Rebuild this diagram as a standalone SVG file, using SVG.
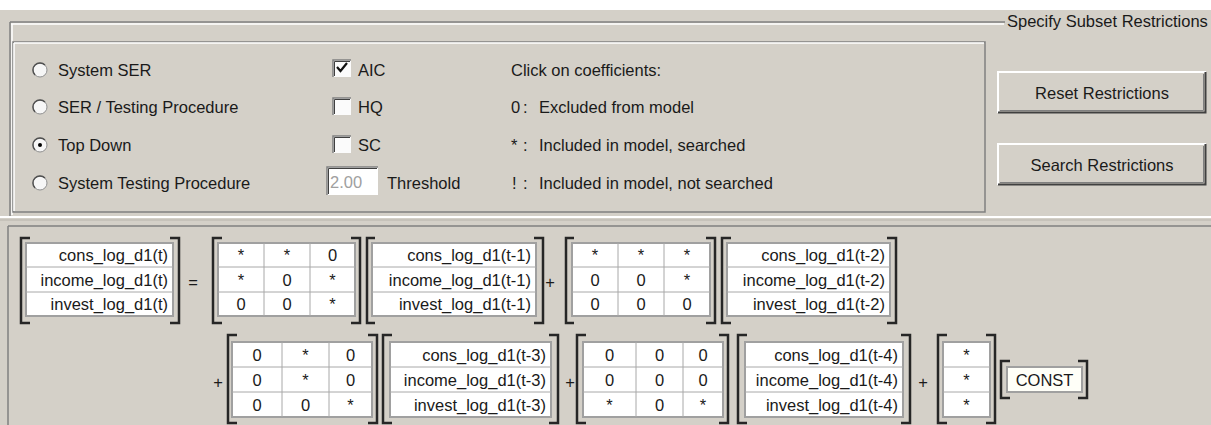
<svg xmlns="http://www.w3.org/2000/svg" width="1211" height="425" viewBox="0 0 1211 425">
<style>
.t{font-family:"Liberation Sans",Arial,sans-serif;font-size:16.5px;fill:#1a1a1a}
.c{text-anchor:middle}
.r{text-anchor:end}
.cells{fill:#fff;stroke:#a0a0a0;stroke-width:2}
.grid{stroke:#a8a8a8;stroke-width:1;fill:none}
.br{fill:none;stroke:#262626;stroke-width:2.5}
.dk{stroke:#808080;stroke-width:1.5;fill:none}
.hl{stroke:#ffffff;stroke-width:1.5;fill:none}
.rad{fill:#f6f6f6;stroke:#909090;stroke-width:1}
.radd{fill:none;stroke:#505050;stroke-width:1.4}
.chk{fill:#fbfbfb}
</style>
<rect x="0" y="0" width="1211" height="425" fill="#d4d0c8"/>
<rect x="0" y="0" width="1211" height="10" fill="#ffffff"/>

<g id="groupbox">
  <path class="dk" d="M10,22 H1005 M10,22 V217"/>
  <path class="hl" d="M11,24 H1004 M12,24 V215"/>
  <text class="t" x="1007" y="27">Specify Subset Restrictions</text>
  <path class="dk" d="M13,42 H985 V212 H13 Z"/>
  <path class="hl" d="M14,43 H984 M14,43 V211"/>
  <path d="M0,217 H1211" stroke="#ffffff" stroke-width="2"/>
  <path d="M0,220 H1211" stroke="#b8b4ac" stroke-width="1"/>
  <path d="M8,226 H1211 M8,226 V425" stroke="#808080" stroke-width="1.5" fill="none"/>
</g>

<g id="radio-system-ser">
  <circle class="rad" cx="40" cy="70" r="7"/>
  <path class="radd" d="M35,75 A7,7 0 0 1 45,65"/>
  <text class="t" x="58" y="76">System SER</text>
</g>
<g id="radio-ser-testing">
  <circle class="rad" cx="40" cy="107" r="7"/>
  <path class="radd" d="M35,112 A7,7 0 0 1 45,102"/>
  <text class="t" x="58" y="113">SER / Testing Procedure</text>
</g>
<g id="radio-top-down">
  <circle class="rad" cx="40" cy="145" r="7"/>
  <path class="radd" d="M35,150 A7,7 0 0 1 45,140"/>
  <circle cx="40" cy="145" r="2" fill="#000"/>
  <text class="t" x="58" y="151">Top Down</text>
</g>
<g id="radio-system-testing">
  <circle class="rad" cx="40" cy="183" r="7"/>
  <path class="radd" d="M35,188 A7,7 0 0 1 45,178"/>
  <text class="t" x="58" y="189">System Testing Procedure</text>
</g>

<g id="check-aic">
  <rect class="chk" x="333" y="60" width="18" height="17"/>
  <path d="M333,77 V60 H351" stroke="#808080" stroke-width="1.5" fill="none"/>
  <path d="M334.5,76 V61.5 H350" stroke="#404040" stroke-width="1" fill="none"/>
  <path d="M337,67 L340.5,71 L347,63" stroke="#111" stroke-width="2.2" fill="none"/>
  <text class="t" x="358" y="76">AIC</text>
</g>
<g id="check-hq">
  <rect class="chk" x="333" y="98" width="18" height="17"/>
  <path d="M333,115 V98 H351" stroke="#808080" stroke-width="1.5" fill="none"/>
  <path d="M334.5,114 V99.5 H350" stroke="#404040" stroke-width="1" fill="none"/>
  <text class="t" x="358" y="113">HQ</text>
</g>
<g id="check-sc">
  <rect class="chk" x="333" y="136" width="18" height="17"/>
  <path d="M333,153 V136 H351" stroke="#808080" stroke-width="1.5" fill="none"/>
  <path d="M334.5,152 V137.5 H350" stroke="#404040" stroke-width="1" fill="none"/>
  <text class="t" x="358" y="151">SC</text>
</g>
<g id="threshold">
  <rect x="327" y="167" width="51" height="28" fill="#ffffff"/>
  <path d="M327,195 V167 H378" stroke="#808080" stroke-width="1.5" fill="none"/>
  <path d="M328.5,194 V168.5 H377" stroke="#404040" stroke-width="1" fill="none"/>
  <text class="t" x="330" y="188" style="fill:#a0a0a0">2.00</text>
  <text class="t" x="387" y="189">Threshold</text>
</g>

<g id="legend">
  <text class="t" x="511" y="76">Click on coefficients:</text>
  <text class="t" y="113"><tspan x="511">0</tspan><tspan x="523">:</tspan><tspan x="539">Excluded from model</tspan></text>
  <text class="t" y="151"><tspan x="511">*</tspan><tspan x="523">:</tspan><tspan x="539">Included in model, searched</tspan></text>
  <text class="t" y="189"><tspan x="512">!</tspan><tspan x="523">:</tspan><tspan x="539">Included in model, not searched</tspan></text>
</g>

<g id="btn-reset">
  <rect x="998" y="72" width="208" height="41" fill="#d4d0c8"/>
  <path d="M998,113 V72 H1206" stroke="#ffffff" stroke-width="2" fill="none"/>
  <path d="M998,112.5 H1205.5 V72" stroke="#404040" stroke-width="2" fill="none"/>
  <path d="M1000,110.5 H1203.5 V74" stroke="#808080" stroke-width="1" fill="none"/>
  <text class="t c" x="1102" y="98.5">Reset Restrictions</text>
</g>
<g id="btn-search">
  <rect x="998" y="144" width="208" height="41" fill="#d4d0c8"/>
  <path d="M998,185 V144 H1206" stroke="#ffffff" stroke-width="2" fill="none"/>
  <path d="M998,184.5 H1205.5 V144" stroke="#404040" stroke-width="2" fill="none"/>
  <path d="M1000,182.5 H1203.5 V146" stroke="#808080" stroke-width="1" fill="none"/>
  <text class="t c" x="1102" y="170.5">Search Restrictions</text>
</g>

<!-- Upper row -->
<g id="vec-t">
  <rect class="cells" x="26" y="243" width="147" height="73"/>
  <path class="grid" d="M26,267 H173 M26,292 H173"/>
  <text class="t r" x="168" y="261">cons_log_d1(t)</text>
  <text class="t r" x="168" y="285.5">income_log_d1(t)</text>
  <text class="t r" x="168" y="310">invest_log_d1(t)</text>
  <path class="br" d="M30,238 H21 V323 H30 M170,238 H179 V323 H170"/>
</g>
<g id="eq"><text class="t c" x="193" y="288">=</text></g>
<g id="mat-a1">
  <rect class="cells" x="218" y="243" width="137" height="73"/>
  <path class="grid" d="M218,267 H355 M218,292 H355 M264,243 V316 M310,243 V316"/>
  <text class="t c" x="241" y="261">*</text><text class="t c" x="287" y="261">*</text><text class="t c" x="332.5" y="261">0</text>
  <text class="t c" x="241" y="285.5">*</text><text class="t c" x="287" y="285.5">0</text><text class="t c" x="332.5" y="285.5">*</text>
  <text class="t c" x="241" y="310">0</text><text class="t c" x="287" y="310">0</text><text class="t c" x="332.5" y="310">*</text>
  <path class="br" d="M222,238 H213 V323 H222 M351,238 H360 V323 H351"/>
</g>
<g id="vec-t1">
  <rect class="cells" x="372" y="243" width="164" height="73"/>
  <path class="grid" d="M372,267 H536 M372,292 H536"/>
  <text class="t r" x="531" y="261">cons_log_d1(t-1)</text>
  <text class="t r" x="531" y="285.5">income_log_d1(t-1)</text>
  <text class="t r" x="531" y="310">invest_log_d1(t-1)</text>
  <path class="br" d="M375,238 H367 V323 H375 M534,238 H543 V323 H534"/>
</g>
<g id="plus1"><text class="t c" x="550" y="288">+</text></g>
<g id="mat-a2">
  <rect class="cells" x="572" y="243" width="138" height="73"/>
  <path class="grid" d="M572,267 H710 M572,292 H710 M618,243 V316 M664,243 V316"/>
  <text class="t c" x="595" y="261">*</text><text class="t c" x="641" y="261">*</text><text class="t c" x="687" y="261">*</text>
  <text class="t c" x="595" y="285.5">0</text><text class="t c" x="641" y="285.5">0</text><text class="t c" x="687" y="285.5">*</text>
  <text class="t c" x="595" y="310">0</text><text class="t c" x="641" y="310">0</text><text class="t c" x="687" y="310">0</text>
  <path class="br" d="M574,238 H566 V323 H574 M706,238 H715 V323 H706"/>
</g>
<g id="vec-t2">
  <rect class="cells" x="727" y="243" width="163" height="73"/>
  <path class="grid" d="M727,267 H890 M727,292 H890"/>
  <text class="t r" x="885" y="261">cons_log_d1(t-2)</text>
  <text class="t r" x="885" y="285.5">income_log_d1(t-2)</text>
  <text class="t r" x="885" y="310">invest_log_d1(t-2)</text>
  <path class="br" d="M731,238 H722 V323 H731 M887,238 H896 V323 H887"/>
</g>

<!-- Lower row -->
<g id="plus2"><text class="t c" x="218" y="388">+</text></g>
<g id="mat-a3">
  <rect class="cells" x="232" y="342" width="140" height="75"/>
  <path class="grid" d="M232,367 H372 M232,392 H372 M282,342 V417 M329,342 V417"/>
  <text class="t c" x="257" y="360.5">0</text><text class="t c" x="305.5" y="360.5">*</text><text class="t c" x="350.5" y="360.5">0</text>
  <text class="t c" x="257" y="385.5">0</text><text class="t c" x="305.5" y="385.5">*</text><text class="t c" x="350.5" y="385.5">0</text>
  <text class="t c" x="257" y="410.5">0</text><text class="t c" x="305.5" y="410.5">0</text><text class="t c" x="350.5" y="410.5">*</text>
  <path class="br" d="M237,335 H228 V423 H237 M368,335 H377 V423 H368"/>
</g>
<g id="vec-t3">
  <rect class="cells" x="390" y="342" width="161" height="75"/>
  <path class="grid" d="M390,367 H551 M390,392 H551"/>
  <text class="t r" x="546" y="360.5">cons_log_d1(t-3)</text>
  <text class="t r" x="546" y="385.5">income_log_d1(t-3)</text>
  <text class="t r" x="546" y="410.5">invest_log_d1(t-3)</text>
  <path class="br" d="M392,335 H383 V423 H392 M549,335 H558 V423 H549"/>
</g>
<g id="plus3"><text class="t c" x="570" y="388">+</text></g>
<g id="mat-a4">
  <rect class="cells" x="583" y="342" width="140" height="75"/>
  <path class="grid" d="M583,367 H723 M583,392 H723 M636,342 V417 M683,342 V417"/>
  <text class="t c" x="609.5" y="360.5">0</text><text class="t c" x="659.5" y="360.5">0</text><text class="t c" x="703" y="360.5">0</text>
  <text class="t c" x="609.5" y="385.5">0</text><text class="t c" x="659.5" y="385.5">0</text><text class="t c" x="703" y="385.5">0</text>
  <text class="t c" x="609.5" y="410.5">*</text><text class="t c" x="659.5" y="410.5">0</text><text class="t c" x="703" y="410.5">*</text>
  <path class="br" d="M586,335 H577 V423 H586 M719,335 H728 V423 H719"/>
</g>
<g id="vec-t4">
  <rect class="cells" x="745" y="342" width="158" height="75"/>
  <path class="grid" d="M745,367 H903 M745,392 H903"/>
  <text class="t r" x="898" y="360.5">cons_log_d1(t-4)</text>
  <text class="t r" x="898" y="385.5">income_log_d1(t-4)</text>
  <text class="t r" x="898" y="410.5">invest_log_d1(t-4)</text>
  <path class="br" d="M747,335 H738 V423 H747 M901,335 H910 V423 H901"/>
</g>
<g id="plus4"><text class="t c" x="923" y="388">+</text></g>
<g id="vec-c">
  <rect class="cells" x="943" y="342" width="47" height="75"/>
  <path class="grid" d="M943,367 H990 M943,392 H990"/>
  <text class="t c" x="966.5" y="360.5">*</text>
  <text class="t c" x="966.5" y="385.5">*</text>
  <text class="t c" x="966.5" y="410.5">*</text>
  <path class="br" d="M947,335 H938 V423 H947 M986,335 H995 V423 H986"/>
</g>
<g id="const">
  <rect class="cells" x="1007" y="367" width="75" height="25" style="fill:#fffff8"/>
  <text class="t c" x="1044.5" y="386">CONST</text>
  <path class="br" d="M1010,361 H1001 V398 H1010 M1078,361 H1087 V398 H1078"/>
</g>
</svg>
